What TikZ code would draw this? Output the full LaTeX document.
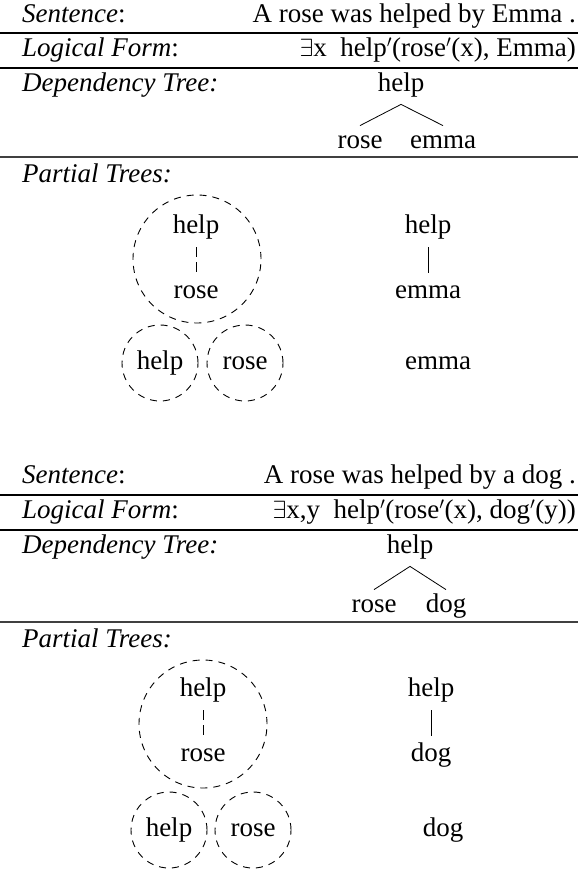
\documentclass[tikz,border=0pt]{standalone}
\usepackage{fontspec}
\setmainfont{Liberation Serif}
\usetikzlibrary{shapes, positioning, calc}

\tikzset{
  word/.style={inner sep=4pt, text height=18.4pt, text depth=6pt},
  rowlabel/.style={word, anchor=west},
  rowtext/.style={word, anchor=east},
  rule/.style={line width=1.2pt},
  thickrule/.style={line width=1.7pt, black!75},
  dep/.style={line width=0.8pt},
  bubble/.style={word, draw, circle, line width=0.9pt, dash pattern=on 7pt off 6pt},
  sublink/.style={dep, shorten <=4pt, shorten >=3pt},
}

\begin{document}
\begin{tikzpicture}[x=1pt, y=-1pt, every node/.style={font=\fontsize{27}{32}\selectfont}]
  \useasboundingbox (0,0) rectangle (578,869);

  % first example: proper noun
  \node[rowlabel] (sent1) at (18,16) {\textit{Sentence}:};
  \node[rowtext] (text1) at (580,16) {A rose was helped by Emma .};
  \draw[rule] (0,33) -- (578,33);
  \node[rowlabel] (lf1) at (18,50) {\textit{Logical Form}:};
  \node[rowtext] (form1) at (580,50) {$\exists$x\enspace help$'$(rose$'$(x), Emma)};
  \draw[rule] (0,68) -- (578,68);
  \node[rowlabel] (dt1) at (18,85) {\textit{Dependency Tree:}};
  \node[word] (dhelp1) at (401,85) {help};
  \node[word] (drose1) at (360,142) {rose};
  \node[word] (demma1) at (443,142) {emma};
  \draw[dep] (drose1.north) -- ([yshift=-3pt]dhelp1.south) -- (demma1.north);
  \draw[thickrule] (0,157) -- (578,157);
  \node[rowlabel] (pt1) at (18,176) {\textit{Partial Trees:}};

  \node[bubble, minimum size=128pt] (big1) at (197,259) {};
  \node[word] (phelp1) at (196,227) {help};
  \node[word] (prose1) at (196,292) {rose};
  \draw[sublink, dash pattern=on 10pt off 5pt] (phelp1) -- (prose1);
  \node[bubble, minimum size=76pt] (shelp1) at (160,363) {help};
  \node[bubble, minimum size=76pt] (srose1) at (245,363) {rose};

  \node[word] (rhelp1) at (428,227) {help};
  \node[word] (remma1) at (428,292) {emma};
  \draw[sublink] (rhelp1) -- (remma1);
  \node[word] (semma1) at (438,363) {emma};

  % second example: indefinite noun
  \node[rowlabel] (sent2) at (18,477) {\textit{Sentence}:};
  \node[rowtext] (text2) at (580,477) {A rose was helped by a dog .};
  \draw[rule] (0,495) -- (578,495);
  \node[rowlabel] (lf2) at (18,512) {\textit{Logical Form}:};
  \node[rowtext] (form2) at (580,512) {$\exists$x,y\enspace help$'$(rose$'$(x), dog$'$(y))};
  \draw[rule] (0,530) -- (578,530);
  \node[rowlabel] (dt2) at (18,547) {\textit{Dependency Tree:}};
  \node[word] (dhelp2) at (410,547) {help};
  \node[word] (drose2) at (374,606) {rose};
  \node[word] (ddog2) at (446,606) {dog};
  \draw[dep] (drose2.north) -- ([yshift=-3pt]dhelp2.south) -- (ddog2.north);
  \draw[thickrule] (0,622) -- (578,622);
  \node[rowlabel] (pt2) at (18,641) {\textit{Partial Trees:}};

  \node[bubble, minimum size=128pt] (big2) at (203,724) {};
  \node[word] (phelp2) at (203,690) {help};
  \node[word] (prose2) at (203,755) {rose};
  \draw[sublink, dash pattern=on 10pt off 5pt] (phelp2) -- (prose2);
  \node[bubble, minimum size=76pt] (shelp2) at (169,830) {help};
  \node[bubble, minimum size=76pt] (srose2) at (253,830) {rose};

  \node[word] (rhelp2) at (431,690) {help};
  \node[word] (rdog2) at (431,755) {dog};
  \draw[sublink] (rhelp2) -- (rdog2);
  \node[word] (sdog2) at (443,830) {dog};
\end{tikzpicture}
\end{document}
